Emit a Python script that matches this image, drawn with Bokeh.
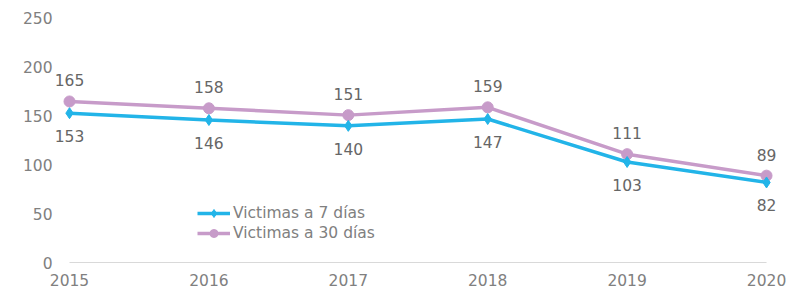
from bokeh.plotting import figure
from bokeh.models import ColumnDataSource, FixedTicker, Legend, LegendItem, Range1d
from bokeh.embed import file_html
from bokeh.resources import INLINE

years = [2015, 2016, 2017, 2018, 2019, 2020]
victimas_7 = [153, 146, 140, 147, 103, 82]
victimas_30 = [165, 158, 151, 159, 111, 89]
y_ticks = [0, 50, 100, 150, 200, 250]

BLUE = "#22b4e8"
PINK = "#c79bc9"
FONT = "DejaVu Sans"
FS = "15.5px"

src = ColumnDataSource(dict(
    x=years, v7=victimas_7, v30=victimas_30,
    l7=[str(v) for v in victimas_7], l30=[str(v) for v in victimas_30],
))

p = figure(width=801, height=294, output_backend="svg", toolbar_location=None,
           x_range=Range1d(2014.8924, 2020.215), y_range=Range1d(-1.02, 264.34),
           min_border_left=54, min_border_right=5, min_border_top=4, min_border_bottom=31)
p.outline_line_color = None
p.xgrid.visible = False
p.ygrid.visible = False
p.background_fill_color = "white"

for ax in (p.xaxis[0], p.yaxis[0]):
    ax.axis_line_color = None
    ax.major_tick_line_color = None
    ax.minor_tick_line_color = None
    ax.major_tick_out = 0
    ax.major_tick_in = 0
    ax.major_label_text_font = FONT
    ax.major_label_text_font_size = FS
    ax.major_label_text_color = "#808080"
p.xaxis.ticker = FixedTicker(ticks=years)
p.yaxis.ticker = FixedTicker(ticks=y_ticks)
p.xaxis.major_label_standoff = 10
p.yaxis.major_label_standoff = 2

# baseline at zero
p.segment(x0=[years[0]], y0=[0], x1=[years[-1]], y1=[0], line_color="#d9d9d9", line_width=1.2)

l30 = p.line("x", "v30", source=src, line_color=PINK, line_width=3.5)
m30 = p.scatter("x", "v30", source=src, marker="circle", size=11, fill_color=PINK, line_color=PINK)
l7 = p.line("x", "v7", source=src, line_color=BLUE, line_width=3.5)
m7 = p.scatter("x", "v7", source=src, marker="diamond", size=11, fill_color=BLUE, line_color=BLUE)

p.text("x", "v30", text="l30", source=src, text_align="center", text_baseline="middle",
       y_offset=-21, text_font=dict(value=FONT), text_font_size=FS, text_color="#666666")
p.text("x", "v7", text="l7", source=src, text_align="center", text_baseline="middle",
       y_offset=23, text_font=dict(value=FONT), text_font_size=FS, text_color="#666666")

legend = Legend(items=[
    LegendItem(label="Victimas a 7 días", renderers=[l7, m7]),
    LegendItem(label="Victimas a 30 días", renderers=[l30, m30]),
], location=(143, 20))
legend.background_fill_alpha = 0
legend.border_line_color = None
legend.padding = 0
legend.margin = 0
legend.spacing = 0
legend.glyph_width = 33
legend.glyph_height = 20
legend.label_height = 20
legend.label_standoff = 3
legend.label_text_font = FONT
legend.label_text_font_size = FS
legend.label_text_color = "#808080"
p.add_layout(legend, "center")

open("out.html", "w").write(file_html(p, INLINE))
